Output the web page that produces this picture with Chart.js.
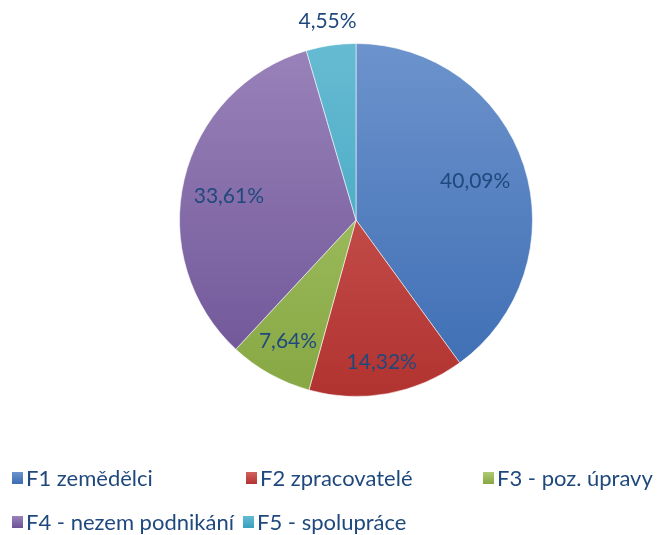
<html>
<head>
<meta charset="utf-8">
<script src="https://cdn.jsdelivr.net/npm/chart.js@4.4.0/dist/chart.umd.min.js"></script>
<style>
  body { margin: 0; background: #fff; }
  #wrap { position: relative; width: 660px; height: 535px; }
</style>
</head>
<body>
<div id="wrap"><canvas id="canvas" width="660" height="535"></canvas></div>
<script>
// data
var categories = ['F1 zemědělci', 'F2 zpracovatelé', 'F3 - poz. úpravy', 'F4 - nezem podnikání', 'F5 - spolupráce'];
var shares = [40.09, 14.32, 7.64, 33.61, 4.55];
var shareLabels = ['40,09%', '14,32%', '7,64%', '33,61%', '4,55%'];

// excel style gradient colours: [top, bottom]
var colours = [
  ['#6C93CC', '#3C6CB3'],
  ['#D2625E', '#B13330'],
  ['#AECB72', '#86A743'],
  ['#9A83BA', '#6C5295'],
  ['#66BBD2', '#38A0BD']
];
var flat = ['#4F81BD', '#C0504D', '#9BBB59', '#8064A2', '#4BACC6'];
var textColour = '#1F497D';
var fontFam = 'Lato, "Open Sans", sans-serif';

// label distance from centre, as part of the radius
var labelRadius = [0.71, 0.82, 0.79, 0.74, 1.135];

function fillFor(context) {
  var chart = context.chart;
  var area = chart.chartArea;
  var i = context.dataIndex;
  if (!area) return flat[i];
  var g = chart.ctx.createLinearGradient(0, area.top, 0, area.bottom);
  g.addColorStop(0, colours[i][0]);
  g.addColorStop(1, colours[i][1]);
  return g;
}

var labelPlugin = {
  id: 'pctLabels',
  afterDatasetsDraw: function(chart) {
    var ctx = chart.ctx;
    var arcs = chart.getDatasetMeta(0).data;
    ctx.save();
    ctx.font = '21px ' + fontFam;
    ctx.fillStyle = textColour;
    ctx.textAlign = 'center';
    ctx.textBaseline = 'middle';
    arcs.forEach(function(a, i) {
      var p = a.getProps(['x', 'y', 'startAngle', 'endAngle', 'outerRadius'], true);
      var mid = (p.startAngle + p.endAngle) / 2;
      var r = p.outerRadius * labelRadius[i];
      var lx = p.x + Math.cos(mid) * r;
      var ly = p.y + Math.sin(mid) * r;
      if (i === 3) ly += 6; // excel nudges this one down a bit
      ctx.fillText(shareLabels[i], lx, ly);
    });
    ctx.restore();
  }
};

// legend laid out like the excel one (two rows)
var legendSpots = [[12, 478], [246, 478], [483, 478], [12, 522], [243, 522]];
var legendPlugin = {
  id: 'xlLegend',
  afterDraw: function(chart) {
    var ctx = chart.ctx;
    ctx.save();
    ctx.font = '22px ' + fontFam;
    ctx.textBaseline = 'middle';
    ctx.textAlign = 'left';
    categories.forEach(function(name, i) {
      var x = legendSpots[i][0], y = legendSpots[i][1];
      var g = ctx.createLinearGradient(0, y - 6, 0, y + 6);
      g.addColorStop(0, colours[i][0]);
      g.addColorStop(1, colours[i][1]);
      ctx.fillStyle = g;
      ctx.fillRect(x, y - 6, 11, 12);
      ctx.fillStyle = textColour;
      ctx.fillText(name, x + 14, y + 1);
    });
    ctx.restore();
  }
};

var ctx = document.getElementById('canvas').getContext('2d');
var chart = new Chart(ctx, {
  type: 'pie',
  data: {
    labels: categories,
    datasets: [{
      data: shares,
      backgroundColor: fillFor,
      borderColor: 'rgba(255,255,255,0.55)',
      borderWidth: 1
    }]
  },
  options: {
    responsive: false,
    animation: false,
    layout: { padding: { top: 43, bottom: 138, left: 179, right: 127 } },
    plugins: {
      legend: { display: false },
      tooltip: { enabled: false }
    }
  },
  plugins: [labelPlugin, legendPlugin]
});
</script>
</body>
</html>
